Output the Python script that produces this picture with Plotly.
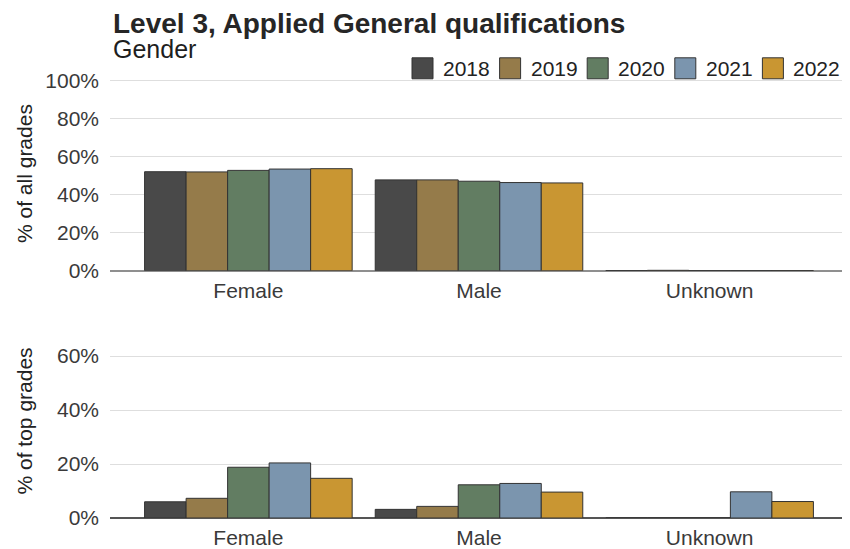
import plotly.graph_objects as go

# ---------------- data ----------------
categories = ["Female", "Male", "Unknown"]
years = ["2018", "2019", "2020", "2021", "2022"]

# % of all grades
all_2018 = [52.1, 47.8, 0.1]
all_2019 = [52.0, 47.8, 0.2]
all_2020 = [52.8, 47.1, 0.1]
all_2021 = [53.5, 46.4, 0.1]
all_2022 = [53.7, 46.2, 0.1]

# % of top grades
top_2018 = [6.0, 3.2, 0.0]
top_2019 = [7.3, 4.3, 0.0]
top_2020 = [18.8, 12.3, 0.0]
top_2021 = [20.4, 12.8, 9.7]
top_2022 = [14.7, 9.6, 6.1]

all_grades = [all_2018, all_2019, all_2020, all_2021, all_2022]
top_grades = [top_2018, top_2019, top_2020, top_2021, top_2022]

colors = ["#494949", "#957B4A", "#627D62", "#7B95AE", "#C99632"]

top_ticks = [0, 20, 40, 60, 80, 100]
bottom_ticks = [0, 20, 40, 60]

# ---------------- layout helpers ----------------
# The page body has an 8px margin, so the figure is drawn 8px in from the
# window corner; coordinates below are given in window pixels.
OFF = 8
W, H = 850 - OFF, 549 - OFF
ML, MR, MT, MB = 110 - OFF, 2, 60, 31
PW, PH = W - ML - MR, H - MT - MB


def px(p):
    return ((p - OFF) - ML) / PW


def py(p):
    return (H - MB - (p - OFF)) / PH


FONT = "Liberation Sans, Arial, sans-serif"
TICK_COL = "#3a3a3a"

fig = go.Figure()

for yr, col, a_vals, t_vals in zip(years, colors, all_grades, top_grades):
    fig.add_trace(go.Bar(
        x=categories, y=a_vals, name=yr, marker=dict(color=col, line=dict(color="#333333", width=1)),
        xaxis="x", yaxis="y", showlegend=False,
        hovertemplate="%{x}<br>" + yr + ": %{y:.1f}%<extra></extra>"))
    fig.add_trace(go.Bar(
        x=categories, y=t_vals, name=yr, marker=dict(color=col, line=dict(color="#333333", width=1)),
        xaxis="x2", yaxis="y2", showlegend=False,
        hovertemplate="%{x}<br>" + yr + ": %{y:.1f}%<extra></extra>"))

top_y0, top_y1 = py(270.7), py(77.3)
bot_y0, bot_y1 = py(518.0), py(325.0)

xaxis_common = dict(
    type="category", range=[-0.6, 2.6], showgrid=False, zeroline=False,
    showline=False, ticks="", tickfont=dict(family=FONT, size=21, color=TICK_COL),
    ticklabelstandoff=5, domain=[0, 1], fixedrange=True,
)
yaxis_common = dict(
    showgrid=True, gridcolor="#dedede", gridwidth=1, zeroline=True,
    ticks="", tickfont=dict(family=FONT, size=21, color=TICK_COL),
    ticklabelstandoff=10, fixedrange=True, tickmode="array",
)

fig.update_layout(
    width=W, height=H,
    margin=dict(l=ML, r=MR, t=MT, b=MB, autoexpand=False),
    paper_bgcolor="white", plot_bgcolor="white",
    barmode="group", bargap=0.1, bargroupgap=0,
    showlegend=False,
    font=dict(family=FONT, color="#222222"),
    xaxis=dict(anchor="y", **xaxis_common),
    xaxis2=dict(anchor="y2", **xaxis_common),
    yaxis=dict(anchor="x", domain=[top_y0, top_y1], range=[0, 101.8],
               tickvals=top_ticks, ticktext=[f"{v}%" for v in top_ticks],
               zerolinecolor="#8f8f8f", zerolinewidth=1.5, **yaxis_common),
    yaxis2=dict(anchor="x2", domain=[bot_y0, bot_y1], range=[0, 71.5],
                tickvals=bottom_ticks, ticktext=[f"{v}%" for v in bottom_ticks],
                zerolinecolor="#555555", zerolinewidth=1.5, **yaxis_common),
)

title_text = ("<span style='font-size:28px;color:#262626'><b>Level 3, Applied General qualifications</b></span>"
              "<br><span style='font-size:25px;color:#1e1e1e'>Gender</span>")

annotations = [
    dict(text=title_text, x=px(111), y=py(36), xref="paper", yref="paper",
         xanchor="left", yanchor="middle", align="left", showarrow=False,
         font=dict(family=FONT, size=19, color="#262626")),
    dict(text="% of all grades", x=px(24), y=(top_y0 + top_y1) / 2, xref="paper", yref="paper",
         xanchor="center", yanchor="middle", textangle=-90, showarrow=False,
         font=dict(family=FONT, size=21, color="#222222")),
    dict(text="% of top grades", x=px(24), y=(bot_y0 + bot_y1) / 2, xref="paper", yref="paper",
         xanchor="center", yanchor="middle", textangle=-90, showarrow=False,
         font=dict(family=FONT, size=21, color="#222222")),
]

# custom legend (large square keys)
shapes = []
leg_x0, leg_step, sq = 412.0, 87.6, 21.0
leg_yc = 68.3
for i, (yr, col) in enumerate(zip(years, colors)):
    x0 = leg_x0 + i * leg_step
    shapes.append(dict(type="rect", xref="paper", yref="paper",
                       x0=px(x0), x1=px(x0 + sq), y0=py(leg_yc + sq / 2), y1=py(leg_yc - sq / 2),
                       fillcolor=col, line=dict(color="#333333", width=1)))
    annotations.append(dict(text=yr, x=px(x0 + sq + 8), y=py(leg_yc), xref="paper", yref="paper",
                            xanchor="left", yanchor="middle", showarrow=False,
                            font=dict(family=FONT, size=21, color="#222222")))

fig.update_layout(annotations=annotations, shapes=shapes)

fig.write_html("out.html")
